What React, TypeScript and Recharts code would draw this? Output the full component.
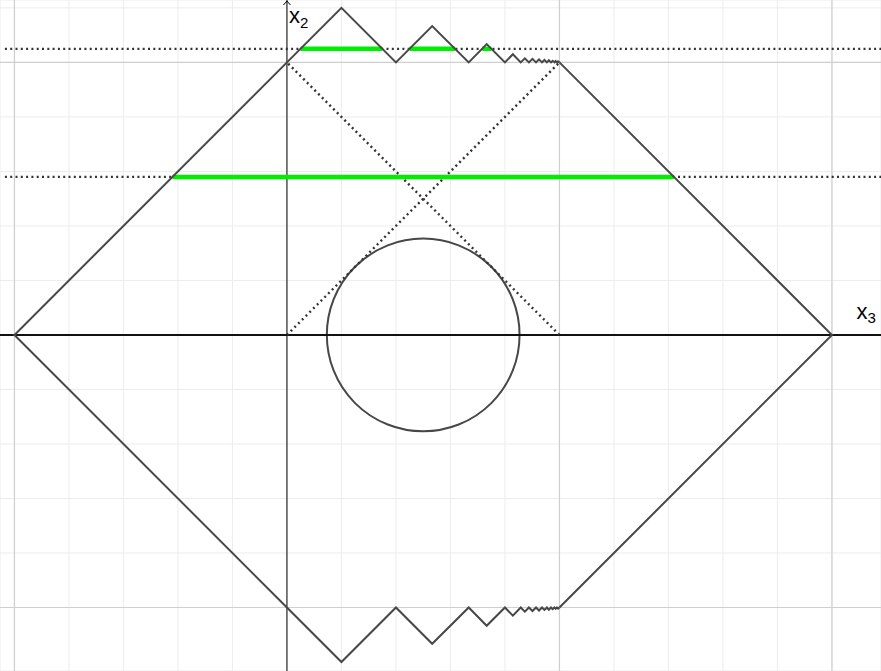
import React from 'react';
import { ComposedChart, XAxis, YAxis, Line, ReferenceLine, ReferenceArea, CartesianGrid } from 'recharts';

// ---- data (in diagram units) ----
const xDomain: [number, number] = [-1.053, 2.18];
const yDomain: [number, number] = [-1.233, 1.229];

const gridX = [-1, -0.8, -0.6, -0.4, -0.2, 0, 0.2, 0.4, 0.6, 0.8, 1, 1.2, 1.4, 1.6, 1.8, 2];
const gridY = [-1.2, -1, -0.8, -0.6, -0.4, -0.2, 0, 0.2, 0.4, 0.6, 0.8, 1, 1.2];
const majorGridX = [-1, 1, 2];
const majorGridY = [-1, 1];

const leftSide = [
  { x: 0, y: 1 },
  { x: -1, y: 0 },
  { x: 0, y: -1 },
];
const rightSide = [
  { x: 1, y: 1 },
  { x: 2, y: 0 },
  { x: 1, y: -1 },
];

const zigX = [0, 0.2, 0.4, 0.533, 0.667, 0.733, 0.8, 0.829, 0.858, 0.873, 0.888, 0.901, 0.914, 0.925, 0.936, 0.945, 0.954, 0.961, 0.969, 0.975, 0.982, 0.986, 0.991, 0.995, 1.0];
const zigTopY = [1, 1.2, 1, 1.133, 1, 1.067, 1, 1.03, 1, 1.015, 1, 1.013, 1, 1.011, 1, 1.009, 1, 1.008, 1, 1.006, 1, 1.005, 1, 1.004, 1];
const zigBottomY = [-1, -1.2, -1, -1.133, -1, -1.067, -1, -1.03, -1, -1.015, -1, -1.013, -1, -1.011, -1, -1.009, -1, -1.008, -1, -1.006, -1, -1.005, -1, -1.004, -1];

const topZig = zigX.map((x, i) => ({ x, y: zigTopY[i] }));
const bottomZig = zigX.map((x, i) => ({ x, y: zigBottomY[i] }));

const dottedLevels = [1.05, 0.58];
const dottedStartX = -1.035;
const dottedDiagonals = [
  [{ x: 0, y: 0 }, { x: 1, y: 1 }],
  [{ x: 1, y: 0 }, { x: 0, y: 1 }],
];

const greenSegments = [
  { y: 1.05, x1: 0.05, x2: 0.35 },
  { y: 1.05, x1: 0.45, x2: 0.617 },
  { y: 1.05, x1: 0.717, x2: 0.75 },
  { y: 0.58, x1: -0.42, x2: 1.42 },
];

const circleCenter = { x: 0.5, y: 0 };
const circleRadius = 0.3536;

const axisLabelH = 'x';
const axisSubH = '3';
const axisLabelV = 'x';
const axisSubV = '2';

// ---- styles ----
const INK = '#474747';
const GREEN = '#00ee00';
const FONT = '"Liberation Sans", Arial, sans-serif';

const CircleShape = (props: any) => {
  const { x, y, width, height } = props;
  return (
    <circle
      cx={x + width / 2}
      cy={y + height / 2}
      r={(Math.abs(width) + Math.abs(height)) / 4}
      fill="none"
      stroke={INK}
      strokeWidth={2}
    />
  );
};

const VLabel = (props: any) => {
  const vb = props.viewBox || {};
  const x = vb.x;
  const y = vb.y;
  return (
    <g>
      <path d={`M ${x - 3.5} ${y + 5} L ${x} ${y + 1} L ${x + 3.5} ${y + 5}`} fill="none" stroke="#000" strokeWidth={1} />
      <text x={x + 2} y={y + 23} fontFamily={FONT} fontSize={22} fill="#000">
        {axisLabelV}
        <tspan fontSize={15} dy={4.5}>{axisSubV}</tspan>
      </text>
    </g>
  );
};

const HLabel = (props: any) => {
  const vb = props.viewBox || {};
  const x = vb.x + vb.width;
  const y = vb.y;
  return (
    <text x={x - 24.5} y={y - 16} fontFamily={FONT} fontSize={22} fill="#000">
      {axisLabelH}
      <tspan fontSize={15} dy={4.5}>{axisSubH}</tspan>
    </text>
  );
};

const lineProps = {
  type: 'linear' as const,
  dataKey: 'y',
  stroke: INK,
  strokeWidth: 2,
  dot: false,
  activeDot: false,
  isAnimationActive: false,
};

export default function App() {
  return (
    <div style={{ position: 'absolute', left: 0, top: 0, background: '#fff' }}>
      <ComposedChart width={881} height={671} margin={{ top: 0, right: 0, bottom: 0, left: 0 }}>
        <XAxis type="number" dataKey="x" domain={xDomain} ticks={gridX} allowDataOverflow hide />
        <YAxis type="number" dataKey="y" domain={yDomain} ticks={gridY} allowDataOverflow hide />
        <CartesianGrid stroke="#ececec" strokeWidth={1} />

        {majorGridX.map((v) => (
          <ReferenceLine key={'Mx' + v} x={v} stroke="#cfcfcf" strokeWidth={1.2} />
        ))}
        {majorGridY.map((v) => (
          <ReferenceLine key={'My' + v} y={v} stroke="#cfcfcf" strokeWidth={1.2} />
        ))}

        <ReferenceLine x={0} stroke="#000" strokeWidth={1} label={<VLabel />} />
        <ReferenceLine y={0} stroke="#111" strokeWidth={2} label={<HLabel />} />

        {dottedLevels.map((v) => (
          <ReferenceLine
            key={'dl' + v}
            segment={[{ x: dottedStartX, y: v }, { x: xDomain[1], y: v }]}
            stroke="#333"
            strokeWidth={2.2}
            strokeDasharray="2 3.3"
          />
        ))}
        {dottedDiagonals.map((seg, i) => (
          <ReferenceLine key={'dd' + i} segment={seg} stroke="#333" strokeWidth={2.4} strokeDasharray="2 3.3" />
        ))}

        {greenSegments.map((g, i) => (
          <ReferenceLine
            key={'g' + i}
            segment={[{ x: g.x1, y: g.y }, { x: g.x2, y: g.y }]}
            stroke={GREEN}
            strokeWidth={4.5}
          />
        ))}

        <ReferenceArea
          x1={circleCenter.x - circleRadius}
          x2={circleCenter.x + circleRadius}
          y1={circleCenter.y - circleRadius}
          y2={circleCenter.y + circleRadius}
          shape={(p: any) => <CircleShape {...p} />}
          ifOverflow="visible"
        />

        <Line data={leftSide} {...lineProps} />
        <Line data={rightSide} {...lineProps} />
        <Line data={topZig} {...lineProps} />
        <Line data={bottomZig} {...lineProps} />
      </ComposedChart>
    </div>
  );
}
